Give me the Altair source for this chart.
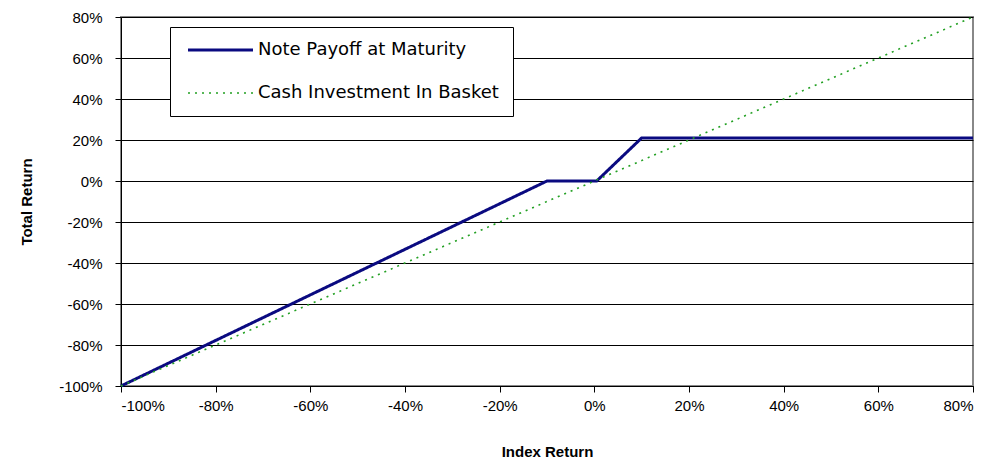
import altair as alt
import pandas as pd

series_names = ["Note Payoff at Maturity", "Cash Investment In Basket"]
note_x = [-1.0, -0.10, 0.005, 0.10, 0.80]
note_y = [-1.0, 0.0, 0.0, 0.21, 0.21]
cash_x = [-1.0, 0.80]
cash_y = [-1.0, 0.80]
x_ticks = [-1.0, -0.8, -0.6, -0.4, -0.2, 0.0, 0.2, 0.4, 0.6, 0.8]
y_ticks = [-1.0, -0.8, -0.6, -0.4, -0.2, 0.0, 0.2, 0.4, 0.6, 0.8]

rows = []
for i, (x, y) in enumerate(zip(note_x, note_y)):
    rows.append({"series": series_names[0], "x": x, "y": y, "o": i})
for i, (x, y) in enumerate(zip(cash_x, cash_y)):
    rows.append({"series": series_names[1], "x": x, "y": y, "o": i})
df = pd.DataFrame(rows)

FONT = "Liberation Sans"
LEG_FONT = "DejaVu Sans"
PCT = "(datum.value < -0.001 ? '-' : '') + format(abs(datum.value) * 100, '.0f') + '%'"

chart = alt.Chart(df).mark_line(clip=False).encode(
    x=alt.X("x:Q",
            scale=alt.Scale(domain=[-1.0, 0.8], nice=False, zero=False),
            axis=alt.Axis(values=x_ticks, labelExpr=PCT, title="Index Return",
                          grid=False, domainColor="black", tickColor="black",
                          tickSize=6, labelFontSize=15, labelColor="black",
                          labelPadding=6, labelFont=FONT,
                          titleFont=FONT, titleFontSize=15, titleFontWeight="bold",
                          titleColor="black", titlePadding=31)),
    y=alt.Y("y:Q",
            scale=alt.Scale(domain=[-1.0, 0.8], nice=False, zero=False),
            axis=alt.Axis(values=y_ticks, labelExpr=PCT, title="Total Return",
                          grid=True, gridColor="black", gridWidth=1.2,
                          domainColor="black", tickColor="black",
                          tickSize=6, labelFontSize=15, labelColor="black",
                          labelPadding=13, labelFont=FONT,
                          titleFont=FONT, titleFontSize=15, titleFontWeight="bold",
                          titleColor="black", titlePadding=24)),
    order="o:Q",
    color=alt.Color("series:N",
                    scale=alt.Scale(domain=series_names, range=["#0a0a80", "#22a022"]),
                    legend=alt.Legend(title=None, orient="none", legendX=49, legendY=10,
                                      direction="vertical",
                                      strokeColor="black", fillColor="white",
                                      padding=14, rowPadding=25,
                                      symbolType="M-1,0H12", symbolSize=100,
                                      labelFontSize=18, labelFont=LEG_FONT,
                                      labelColor="black", labelOffset=56,
                                      labelLimit=400)),
    strokeDash=alt.StrokeDash("series:N",
                              scale=alt.Scale(domain=series_names, range=[[1, 0], [2, 5]]),
                              legend=None),
    strokeWidth=alt.StrokeWidth("series:N",
                                scale=alt.Scale(domain=series_names, range=[3, 1.6]),
                                legend=None),
).properties(
    width=852, height=369,
    padding={"left": 113, "top": 9, "right": 15, "bottom": 75},
    autosize=alt.AutoSizeParams(type="none"),
).configure_view(
    stroke="#888888", strokeWidth=2
)

chart.save("out.html", embed_options={"renderer": "svg", "actions": False})
